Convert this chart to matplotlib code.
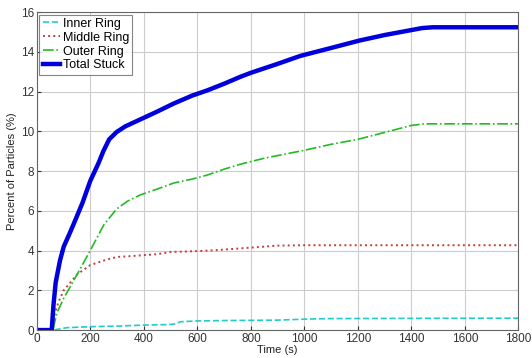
import matplotlib
matplotlib.use("Agg")
import matplotlib.pyplot as plt

plt.rcParams['font.family'] = ['Liberation Sans', 'DejaVu Sans']

# Time samples (s) for each series
t_total = [0, 55, 62, 70, 86, 100, 120, 136, 170, 199, 230, 248, 270, 298, 330, 386, 450, 511, 580, 636, 700, 761, 800, 900, 985, 1100, 1205, 1300, 1400, 1440, 1480, 1800]
total = [0, 0, 1.3, 2.4, 3.5, 4.2, 4.8, 5.3, 6.4, 7.5, 8.4, 9.0, 9.6, 9.97, 10.25, 10.6, 11.0, 11.4, 11.8, 12.06, 12.4, 12.75, 12.95, 13.4, 13.8, 14.2, 14.57, 14.85, 15.1, 15.2, 15.24, 15.24]

t_outer = [0, 60, 68, 74, 100, 150, 199, 250, 298, 340, 386, 450, 511, 580, 636, 700, 761, 850, 1000, 1100, 1200, 1300, 1400, 1450, 1800]
outer = [0, 0, 0.5, 0.85, 1.6, 2.8, 4.0, 5.3, 6.1, 6.5, 6.8, 7.1, 7.4, 7.6, 7.8, 8.1, 8.35, 8.65, 9.05, 9.35, 9.6, 9.95, 10.3, 10.38, 10.38]

t_middle = [0, 60, 66, 80, 100, 150, 199, 250, 298, 350, 398, 450, 498, 611, 700, 800, 898, 1000, 1800]
middle = [0, 0, 0.8, 1.4, 2.0, 2.8, 3.27, 3.5, 3.68, 3.72, 3.77, 3.82, 3.93, 3.98, 4.05, 4.15, 4.25, 4.27, 4.27]

t_inner = [0, 60, 111, 199, 300, 398, 498, 520, 536, 600, 700, 898, 1000, 1100, 1800]
inner = [0, 0, 0.12, 0.17, 0.2, 0.25, 0.28, 0.32, 0.42, 0.46, 0.48, 0.5, 0.55, 0.58, 0.6]

x_ticks = [0, 200, 400, 600, 800, 1000, 1200, 1400, 1600, 1800]
y_ticks = [0, 2, 4, 6, 8, 10, 12, 14, 16]

fig = plt.figure(figsize=(5.32, 3.58), dpi=100)
ax = fig.add_axes([0.0695, 0.078, 0.905, 0.888])

ax.plot(t_inner, inner, color='#22cccc', linestyle='--', linewidth=1.2, label='Inner Ring')
ax.plot(t_middle, middle, color='#c83c3c', linestyle=':', linewidth=1.4, label='Middle Ring')
ax.plot(t_outer, outer, color='#22bb22', linestyle='-.', linewidth=1.2, label='Outer Ring')
ax.plot(t_total, total, color='#0000dd', linestyle='-', linewidth=3.2, label='Total Stuck')

ax.set_xlim(0, 1800)
ax.set_ylim(0, 16)
ax.set_xticks(x_ticks)
ax.set_yticks(y_ticks)
ax.tick_params(labelsize=8.5, colors='#333333', direction='in', length=3, pad=2)
ax.grid(True, color='#cccccc', linewidth=0.8)
ax.set_axisbelow(True)
for s in ax.spines.values():
    s.set_color('#666666')
    s.set_linewidth(0.8)

ax.set_xlabel('Time (s)', fontsize=8, color='#222222', labelpad=0)
ax.set_ylabel('Percent of Particles (%)', fontsize=8, color='#222222', labelpad=3)

leg = ax.legend(loc='upper left', fontsize=9, frameon=True, fancybox=False,
                handlelength=1.4, handletextpad=0.2, borderpad=0.25, labelspacing=0.15,
                borderaxespad=0.2)
leg.get_frame().set_edgecolor('#666666')
leg.get_frame().set_linewidth(0.8)

fig.savefig('out.png', dpi=100)
